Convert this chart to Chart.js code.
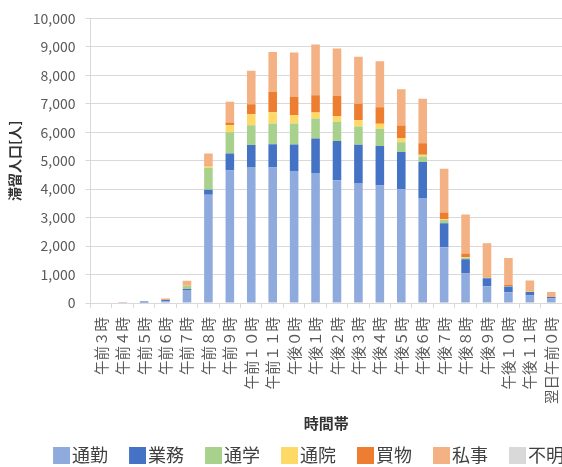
<!DOCTYPE html>
<html>
<head>
<meta charset="utf-8">
<script src="https://cdn.jsdelivr.net/npm/chart.js@4/dist/chart.umd.min.js"></script>
<style>
  html, body { margin: 0; padding: 0; overflow: hidden; background: #fff; }
  #wrap { width: 610px; height: 474px; }
</style>
</head>
<body>
<div id="wrap"><canvas id="stay_chart" width="610" height="474"></canvas></div>
<script>
// time slots
let hours = ["午前３時","午前４時","午前５時","午前６時","午前７時","午前８時","午前９時","午前１０時","午前１１時",
             "午後０時","午後１時","午後２時","午後３時","午後４時","午後５時","午後６時","午後７時","午後８時",
             "午後９時","午後１０時","午後１１時","翌日午前０時"];

// people staying, by purpose
let commute  = [0, 5, 20, 60, 460, 3800, 4660, 4780, 4760, 4640, 4570, 4310, 4220, 4130, 4000, 3690, 1960, 1040, 590, 380, 260, 160];
let business = [0, 5, 30, 45, 30, 180, 590, 770, 820, 930, 1210, 1380, 1340, 1390, 1310, 1260, 840, 500, 280, 200, 130, 50];
let school   = [0, 0, 0, 0, 110, 770, 750, 700, 730, 740, 700, 680, 640, 600, 340, 200, 120, 50, 20, 10, 5, 0];
let hospital = [0, 0, 0, 0, 10, 60, 250, 380, 390, 290, 210, 190, 220, 180, 140, 60, 20, 30, 10, 10, 5, 0];
let shopping = [0, 5, 0, 15, 5, 20, 90, 350, 710, 640, 610, 710, 580, 580, 450, 400, 240, 120, 30, 40, 30, 10];
let personal = [0, 5, 10, 35, 170, 420, 730, 1180, 1410, 1560, 1780, 1670, 1650, 1610, 1270, 1570, 1540, 1370, 1170, 940, 360, 170];
let unknown  = [0, 0, 0, 0, 0, 0, 0, 0, 0, 0, 0, 0, 0, 0, 0, 0, 0, 0, 0, 0, 0, 0];

let yTicks = [0, 1000, 2000, 3000, 4000, 5000, 6000, 7000, 8000, 9000, 10000];

const jp = "'Noto Sans CJK JP', 'Noto Sans', sans-serif";

// legend swatch: square pushed to the right so the text sits close to it
function swatch(color) {
  let c = document.createElement('canvas');
  c.width = 31; c.height = 17;
  let g = c.getContext('2d');
  g.fillStyle = color;
  g.fillRect(14, 0, 17, 17);
  return c;
}

let chart = document.querySelector("#stay_chart");
new Chart(chart, {
  type: 'bar',
  data: {
    labels: hours,
    datasets: [
      { label: "通勤", data: commute,  backgroundColor: "#8faadc" },
      { label: "業務", data: business, backgroundColor: "#4472c4" },
      { label: "通学", data: school,   backgroundColor: "#a9d18e" },
      { label: "通院", data: hospital, backgroundColor: "#ffd966" },
      { label: "買物", data: shopping, backgroundColor: "#ed7d31" },
      { label: "私事", data: personal, backgroundColor: "#f4b183" },
      { label: "不明", data: unknown,  backgroundColor: "#d9d9d9" }
    ]
  },
  options: {
    responsive: false,
    animation: false,
    layout: { padding: { top: 11, left: 0 } },
    datasets: { bar: { barPercentage: 0.4, categoryPercentage: 1.0 } },
    plugins: {
      tooltip: { enabled: false },
      legend: {
        position: 'bottom',
        labels: {
          usePointStyle: true, pointStyleWidth: 17, boxHeight: 17, padding: 14,
          color: "#404040",
          font: { family: jp, size: 18 },
          generateLabels: (c) => {
            let items = Chart.defaults.plugins.legend.labels.generateLabels(c);
            items.forEach(it => { it.pointStyle = swatch(it.fillStyle); });
            return items;
          }
        }
      }
    },
    scales: {
      x: {
        stacked: true,
        grid: { display: true, drawOnChartArea: false, drawTicks: true, tickLength: 5, color: "#d9d9d9" },
        border: { color: "#d9d9d9" },
        ticks: {
          autoSkip: false, maxRotation: 90, minRotation: 90, padding: 9,
          color: "#595959", font: { family: jp, size: 14.5 }
        },
        title: {
          display: true, text: "時間帯", color: "#333",
          font: { family: jp, size: 15, weight: 'bold' },
          padding: { top: 1, bottom: 0 }
        }
      },
      y: {
        stacked: true,
        min: 0, max: 10000,
        afterBuildTicks: (scale) => { scale.ticks = yTicks.map(v => ({ value: v })); },
        grid: { color: "#d9d9d9", tickLength: 5 },
        border: { color: "#d9d9d9" },
        ticks: {
          padding: 10, color: "#595959", font: { family: jp, size: 14 },
          callback: (v) => v.toLocaleString('en-US')
        },
        title: {
          display: true, text: "滞留人口[人]", color: "#333",
          font: { family: jp, size: 14, weight: 'bold' },
          padding: { top: 6, bottom: 0 }
        }
      },
      spacer: {
        position: 'right',
        display: true,
        grid: { display: false },
        border: { display: false },
        ticks: { display: false },
        afterFit: (scale) => { scale.width = 48; }
      }
    }
  }
});
</script>
</body>
</html>
